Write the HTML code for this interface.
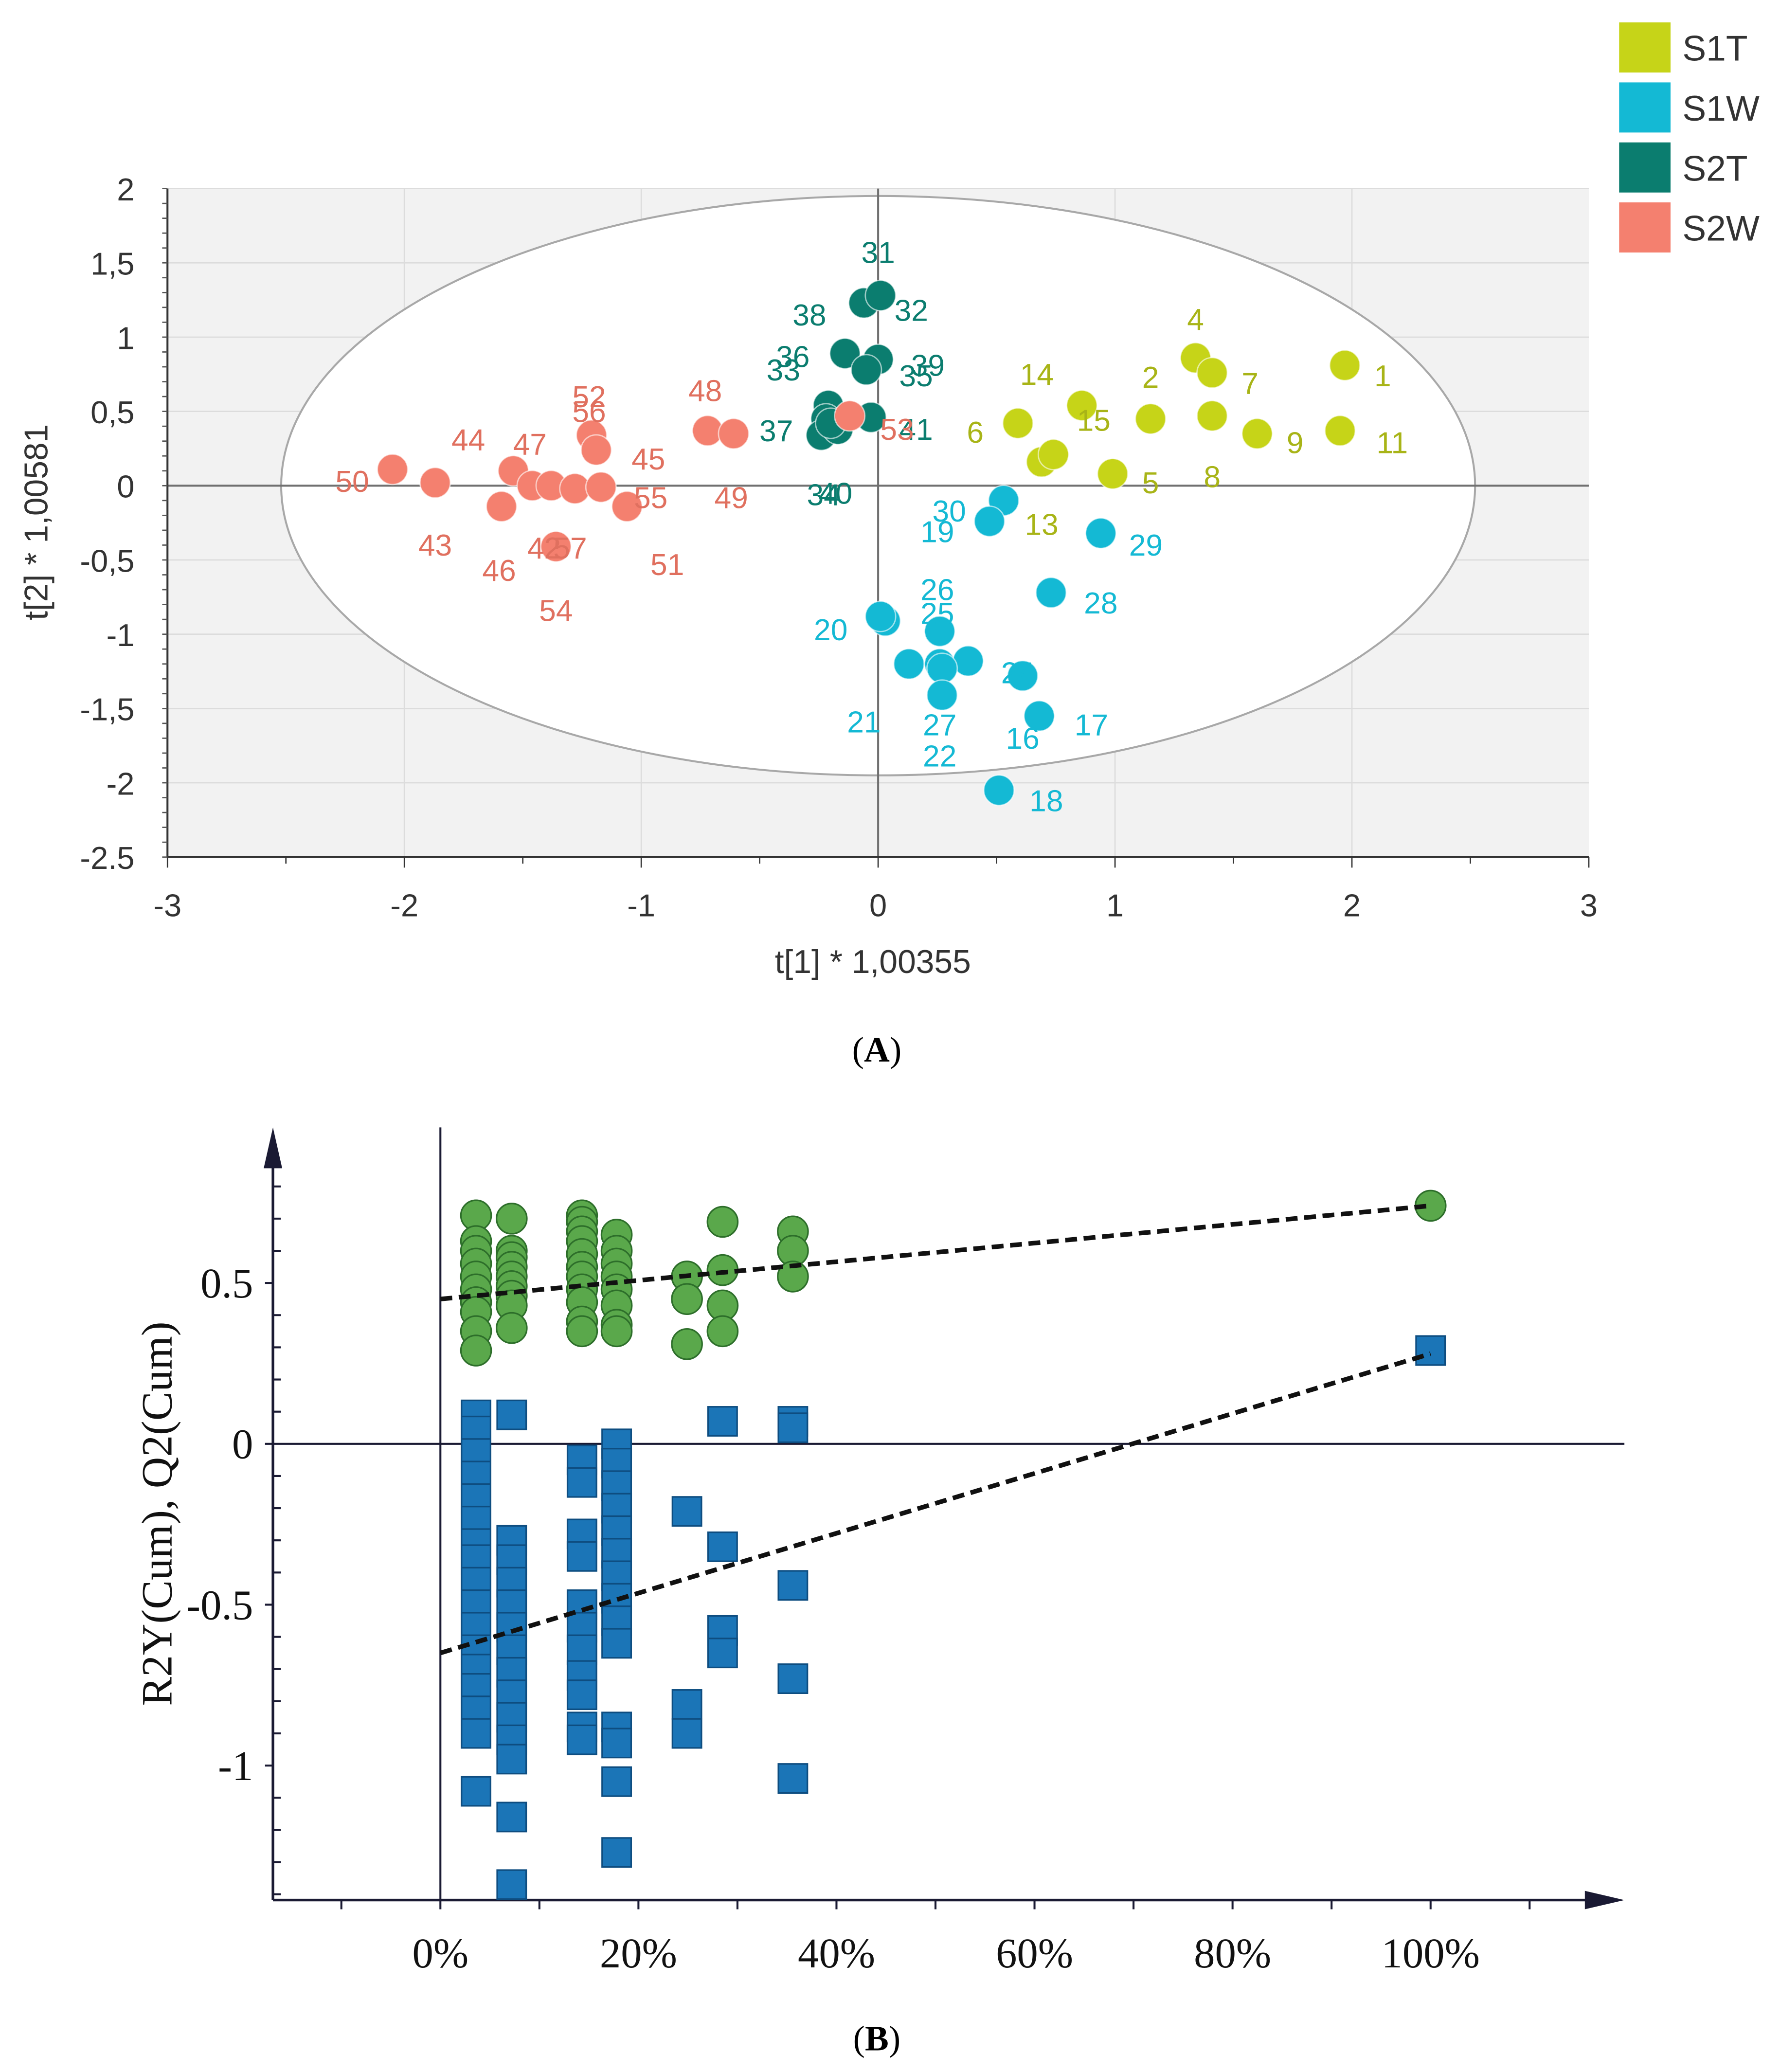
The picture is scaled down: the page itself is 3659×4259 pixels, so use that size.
<!DOCTYPE html>
<html><head><meta charset="utf-8"><style>
html,body{margin:0;padding:0;background:#fff}
svg{display:block}
</style></head><body>
<svg id="fig" xmlns="http://www.w3.org/2000/svg" width="3659" height="4259" viewBox="0 0 1350 1571.4">
<rect x="0" y="0" width="1350" height="1571.4" fill="#fff"/>
<g id="chartA"></g>
<g id="chartB"></g>
</svg>
<script>
// ---------- Chart A data ----------
const groupNames = ["S1T","S1W","S2T","S2W"];
const groupColors = ["#c6d418","#14b9d4","#0b7d6f","#f4806f"];
const s1tX = [1.97,1.34,1.41,1.95,1.60,1.41,1.15,0.86,0.59,0.69,0.74,0.99];
const s1tY = [0.81,0.86,0.76,0.37,0.35,0.47,0.45,0.54,0.42,0.16,0.21,0.08];
const s1wX = [0.53,0.47,0.94,0.73,0.03,0.01,0.26,0.13,0.26,0.38,0.27,0.61,0.27,0.68,0.51];
const s1wY = [-0.10,-0.24,-0.32,-0.72,-0.91,-0.88,-0.98,-1.20,-1.20,-1.18,-1.23,-1.28,-1.41,-1.55,-2.05];
const s2tX = [-0.06,0.01,-0.14,0.00,-0.05,-0.21,-0.22,-0.24,-0.17,-0.03,-0.20];
const s2tY = [1.23,1.28,0.89,0.85,0.78,0.54,0.45,0.34,0.38,0.46,0.42];
const s2wX = [-2.05,-1.87,-1.54,-1.46,-1.38,-1.28,-1.17,-1.59,-1.06,-1.21,-1.19,-1.36,-0.72,-0.61,-0.12];
const s2wY = [0.11,0.02,0.10,0.00,0.00,-0.02,-0.01,-0.14,-0.14,0.34,0.24,-0.41,0.37,0.35,0.47];
const aXTicks = [-3,-2,-1,0,1,2,3];
const aYTicks = [2,1.5,1,0.5,0,-0.5,-1,-1.5,-2,-2.5];
const aYTickLabels = ["2","1,5","1","0,5","0","-0,5","-1","-1,5","-2","-2.5"];
// point labels: [text, group, x(data), y(data)]
const aLabels = [
["4",0,1.34,1.12],["1",0,2.13,0.74],["2",0,1.15,0.73],["7",0,1.57,0.69],["14",0,0.67,0.75],["15",0,0.91,0.44],["6",0,0.41,0.36],["9",0,1.76,0.29],["11",0,2.17,0.29],["5",0,1.15,0.02],["8",0,1.41,0.06],["13",0,0.69,-0.26],
["30",1,0.30,-0.17],["19",1,0.25,-0.31],["29",1,1.13,-0.40],["26",1,0.25,-0.70],["28",1,0.94,-0.79],["25",1,0.25,-0.86],["20",1,-0.20,-0.97],["24",1,0.59,-1.26],["21",1,-0.06,-1.59],["27",1,0.26,-1.61],["16",1,0.61,-1.70],["17",1,0.90,-1.61],["22",1,0.26,-1.82],["18",1,0.71,-2.12],
["31",2,0.00,1.57],["38",2,-0.29,1.15],["32",2,0.14,1.18],["36",2,-0.36,0.87],["33",2,-0.40,0.78],["39",2,0.21,0.81],["35",2,0.16,0.74],["37",2,-0.43,0.37],["41",2,0.16,0.38],["34",2,-0.23,-0.06],["40",2,-0.18,-0.05],
["52",3,-1.22,0.60],["56",3,-1.22,0.50],["48",3,-0.73,0.64],["44",3,-1.73,0.31],["47",3,-1.47,0.28],["45",3,-0.97,0.18],["50",3,-2.22,0.03],["55",3,-0.96,-0.08],["49",3,-0.62,-0.08],["43",3,-1.87,-0.40],["42",3,-1.41,-0.42],["57",3,-1.30,-0.42],["46",3,-1.60,-0.57],["51",3,-0.89,-0.53],["54",3,-1.36,-0.84],["53",3,0.08,0.38]
];
// ---------- Chart B data ----------
const permX = [3.6,7.2,14.3,17.8,24.9,28.5,35.6,100];
const r2Values = [
 [0.71,0.63,0.60,0.56,0.52,0.48,0.44,0.41,0.35,0.29],
 [0.70,0.60,0.58,0.55,0.52,0.49,0.46,0.43,0.36],
 [0.71,0.69,0.66,0.63,0.59,0.55,0.52,0.48,0.44,0.38,0.35],
 [0.65,0.60,0.56,0.52,0.48,0.43,0.37,0.35],
 [0.52,0.45,0.31],
 [0.69,0.54,0.43,0.35],
 [0.66,0.60,0.52],
 [0.74]];
const q2Values = [
 [0.09,0.04,-0.03,-0.10,-0.17,-0.24,-0.31,-0.36,-0.43,-0.50,-0.57,-0.64,-0.70,-0.76,-0.83,-0.90,-1.08],
 [0.09,-0.30,-0.36,-0.43,-0.50,-0.57,-0.64,-0.71,-0.78,-0.85,-0.92,-0.98,-1.16,-1.37],
 [-0.05,-0.12,-0.28,-0.35,-0.50,-0.57,-0.64,-0.72,-0.78,-0.88,-0.92],
 [0.00,-0.06,-0.13,-0.20,-0.27,-0.34,-0.41,-0.48,-0.55,-0.62,-0.88,-0.93,-1.05,-1.27],
 [-0.21,-0.81,-0.90],
 [0.07,-0.32,-0.58,-0.65],
 [0.07,0.05,-0.44,-0.73,-1.04],
 [0.29]];
const r2Line = [0.45,0.74];
const q2Line = [-0.65,0.28];
const bXTicks = [0,20,40,60,80,100];
const bYTicks = [0.5,0,-0.5,-1];
const bYTickLabels = ["0.5","0","-0.5","-1"];

const NS="http://www.w3.org/2000/svg";
function mk(parent,tag,attrs,text){const e=document.createElementNS(NS,tag);for(const k in attrs)e.setAttribute(k,attrs[k]);if(text!==undefined)e.textContent=text;parent.appendChild(e);return e;}

// ---------- Chart A ----------
(function(){
const g=document.getElementById('chartA');
const L=127,R=1205,T=143,B=650;
const xs=v=>L+(v+3)/6*(R-L);
const ys=v=>T+(2-v)/4.5*(B-T);
const bg=mk(g,'rect',{x:L,y:T,width:R-L,height:B-T,fill:'#f2f2f2'});


aXTicks.forEach(t=>{ if(t>-3&&t<3){const l=mk(g,'line',{x1:xs(t),x2:xs(t),y1:T,y2:B,stroke:'#dcdcdc','stroke-width':1});

}});
aYTicks.forEach(t=>{const l=mk(g,'line',{x1:L,x2:R,y1:ys(t),y2:ys(t),stroke:'#dcdcdc','stroke-width':1});

});
const el=mk(g,'ellipse',{cx:xs(0),cy:ys(0),rx:xs(2.52)-xs(0),ry:ys(-1.95)-ys(0),fill:'#fff',stroke:'#a8a8a8','stroke-width':1.5});


const z1=mk(g,'line',{x1:L,x2:R,y1:ys(0),y2:ys(0),stroke:'#707070','stroke-width':1.5});


const z2=mk(g,'line',{x1:xs(0),x2:xs(0),y1:T,y2:B,stroke:'#707070','stroke-width':1.5});


// axes
const ax=mk(g,'line',{x1:L,x2:R,y1:B,y2:B,stroke:'#333','stroke-width':1.5});


const ay=mk(g,'line',{x1:L,x2:L,y1:T,y2:B,stroke:'#333','stroke-width':1.5});


for(let v=-3;v<=3.001;v+=0.5){const big=Math.abs(v-Math.round(v))<1e-6;mk(g,'line',{x1:xs(v),x2:xs(v),y1:B,y2:B+(big?8:5),stroke:'#333','stroke-width':1});}
for(let v=-2.5;v<=2.001;v+=0.1){mk(g,'line',{x1:L-4,x2:L,y1:ys(v),y2:ys(v),stroke:'#555','stroke-width':1});}
aXTicks.forEach(t=>{const tx=mk(g,'text',{x:xs(t),y:B+45,'text-anchor':'middle','font-family':'Liberation Sans, sans-serif','font-size':24,fill:'#333'},String(t));

});
aYTicks.forEach((t,i)=>{const tx=mk(g,'text',{x:102,y:ys(t)+9,'text-anchor':'end','font-family':'Liberation Sans, sans-serif','font-size':24,fill:'#333'},aYTickLabels[i]);

});
const xt=mk(g,'text',{x:662,y:738,'text-anchor':'middle','font-family':'Liberation Sans, sans-serif','font-size':25,fill:'#333'},'t[1] * 1,00355');


const yt=mk(g,'text',{x:0,y:0,'text-anchor':'middle','font-family':'Liberation Sans, sans-serif','font-size':25,fill:'#333',transform:'translate(36,396) rotate(-90)'},'t[2] * 1,00581');


const sets=[[s1tX,s1tY],[s1wX,s1wY],[s2tX,s2tY],[s2wX,s2wY]];
const order=[2,0,1,3];
order.forEach(gi=>{const [X,Y]=sets[gi];X.forEach((x,i)=>{const c=mk(g,'circle',{cx:xs(x),cy:ys(Y[i]),r:11.5,fill:groupColors[gi],stroke:'#fff','stroke-width':1,'stroke-opacity':0.6});

});});
aLabels.forEach(l=>{const tx=mk(g,'text',{x:xs(l[2]),y:ys(l[3])+8,'text-anchor':'middle','font-family':'Liberation Sans, sans-serif','font-size':23,fill:groupColors[l[1]]==='#c6d418'?'#a8b417':(groupColors[l[1]]==='#f4806f'?'#e0705f':groupColors[l[1]])},l[0]);

});
// legend
groupNames.forEach((n,i)=>{const y0=17+i*45.5;
const r=mk(g,'rect',{x:1228,y:y0,width:39,height:38,fill:groupColors[i]});


const tx=mk(g,'text',{x:1276,y:y0+29,'font-family':'Liberation Sans, sans-serif','font-size':27,fill:'#333'},n);

});
const cap=mk(g,'text',{x:665,y:805,'text-anchor':'middle','font-family':'Liberation Serif, serif','font-size':27,fill:'#000'},'(');


mk(cap,'tspan',{'font-weight':'bold'},'A');mk(cap,'tspan',{},')');
})();

// ---------- Chart B ----------
(function(){
const g=document.getElementById('chartB');
const xs=v=>334+v*7.51;
const ys=v=>1095-v*244;
const AX=207,AB=1441;
const ay=mk(g,'line',{x1:AX,x2:AX,y1:AB,y2:870,stroke:'#1a1a33','stroke-width':2});


mk(g,'polygon',{points:`${AX},855 ${AX-7},886 ${AX+7},886`,fill:'#1a1a33'});
const ax=mk(g,'line',{x1:AX,x2:1215,y1:AB,y2:AB,stroke:'#1a1a33','stroke-width':2});


mk(g,'polygon',{points:`1232,${AB} 1202,${AB-7} 1202,${AB+7}`,fill:'#1a1a33'});
const v0=mk(g,'line',{x1:xs(0),x2:xs(0),y1:855,y2:AB,stroke:'#1a1a33','stroke-width':1.5});


const h0=mk(g,'line',{x1:AX,x2:1232,y1:ys(0),y2:ys(0),stroke:'#1a1a33','stroke-width':1.5});


for(let v=-10;v<=110;v+=10){mk(g,'line',{x1:xs(v),x2:xs(v),y1:AB,y2:AB+7,stroke:'#1a1a33','stroke-width':1.5});}
for(let v=-1.4;v<=0.81;v+=0.1){const big=Math.abs(v*2-Math.round(v*2))<1e-6;mk(g,'line',{x1:AX,x2:AX+(big?-6:6),y1:ys(v),y2:ys(v),stroke:'#1a1a33','stroke-width':1.5});}
bXTicks.forEach(t=>{const tx=mk(g,'text',{x:xs(t),y:1492,'text-anchor':'middle','font-family':'Liberation Serif, serif','font-size':32,fill:'#111'},t+'%');

});
bYTicks.forEach((t,i)=>{const tx=mk(g,'text',{x:192,y:ys(t)+11,'text-anchor':'end','font-family':'Liberation Serif, serif','font-size':32,fill:'#111'},bYTickLabels[i]);

});
const yt=mk(g,'text',{x:0,y:0,'text-anchor':'middle','font-family':'Liberation Serif, serif','font-size':33,fill:'#111',transform:'translate(130,1148) rotate(-90)'},'R2Y(Cum), Q2(Cum)');


q2Values.forEach((col,ci)=>col.forEach(v=>{const s=mk(g,'rect',{x:xs(permX[ci])-11,y:ys(v)-11,width:22,height:22,fill:'#1b75b7',stroke:'#0e4d80','stroke-width':1.2});

}));
r2Values.forEach((col,ci)=>col.forEach(v=>{const c=mk(g,'circle',{cx:xs(permX[ci]),cy:ys(v),r:11.5,fill:'#5aa84b',stroke:'#2d6e2a','stroke-width':1.2});

}));
const l1=mk(g,'line',{x1:xs(0),y1:ys(r2Line[0]),x2:xs(100),y2:ys(r2Line[1]),stroke:'#111','stroke-width':3.5,'stroke-dasharray':'9,5'});


const l2=mk(g,'line',{x1:xs(0),y1:ys(q2Line[0]),x2:xs(100),y2:ys(q2Line[1]),stroke:'#111','stroke-width':3.5,'stroke-dasharray':'9,5'});


const cap=mk(g,'text',{x:665,y:1555,'text-anchor':'middle','font-family':'Liberation Serif, serif','font-size':27,fill:'#000'},'(');


mk(cap,'tspan',{'font-weight':'bold'},'B');mk(cap,'tspan',{},')');
})();
</script>
</body></html>
